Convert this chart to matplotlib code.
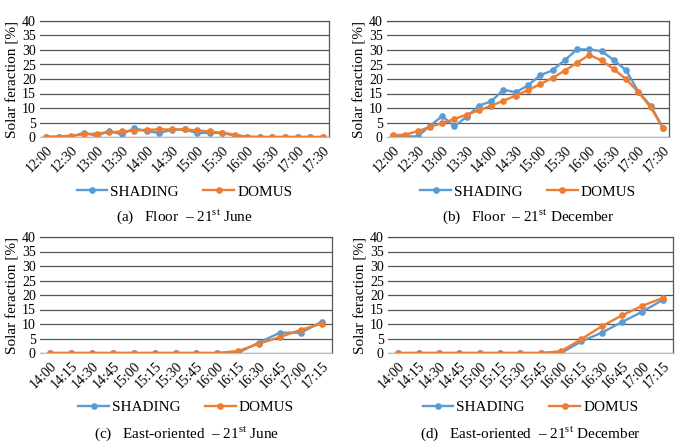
import numpy as np
import matplotlib
matplotlib.use("Agg")
import matplotlib.pyplot as plt

plt.rcParams["font.family"] = ["Liberation Serif", "DejaVu Serif"]
plt.rcParams["mathtext.fontset"] = "custom"
plt.rcParams["mathtext.rm"] = "Liberation Serif"

# time axes
times_floor = ["12:00", "12:15", "12:30", "12:45", "13:00", "13:15", "13:30", "13:45",
               "14:00", "14:15", "14:30", "14:45", "15:00", "15:15", "15:30", "15:45",
               "16:00", "16:15", "16:30", "16:45", "17:00", "17:15", "17:30"]
times_east = ["14:00", "14:15", "14:30", "14:45", "15:00", "15:15", "15:30", "15:45",
              "16:00", "16:15", "16:30", "16:45", "17:00", "17:15"]

# (a) Floor - 21st June
shading_a = [0.1, 0.1, 0.1, 1.5, 0.4, 2.1, 0.9, 3.0, 2.0, 1.4, 2.5, 2.6, 1.4, 1.4,
             1.4, 0.5, 0.1, 0.0, 0.0, 0.0, 0.0, 0.0, 0.0]
domus_a = [0.1, 0.1, 0.5, 0.9, 1.2, 1.6, 1.9, 2.2, 2.5, 2.6, 2.6, 2.6, 2.3, 1.9,
           1.5, 0.8, 0.1, 0.0, 0.0, 0.0, 0.0, 0.0, 0.0]

# (b) Floor - 21st December
shading_b = [0.3, 0.2, 0.2, 3.8, 7.2, 3.7, 7.0, 10.8, 12.3, 16.3, 15.4, 17.8, 21.3,
             23.0, 26.5, 30.2, 30.2, 29.6, 26.5, 23.0, 15.6, 10.8, 3.2]
domus_b = [0.6, 0.8, 2.0, 3.5, 4.8, 6.2, 7.7, 9.2, 10.8, 12.5, 14.3, 16.2, 18.2,
           20.4, 22.9, 25.6, 28.3, 26.4, 23.4, 19.9, 15.5, 10.2, 3.2]

# (c) East-oriented - 21st June
shading_c = [0, 0, 0, 0, 0, 0, 0, 0, 0, 0.1, 3.6, 7.0, 7.0, 10.7]
domus_c = [0, 0, 0, 0, 0, 0, 0, 0, 0, 0.7, 3.2, 5.5, 8.0, 10.1]

# (d) East-oriented - 21st December
shading_d = [0, 0, 0, 0, 0, 0, 0, 0, 0.0, 4.0, 7.0, 10.7, 14.3, 18.3]
domus_d = [0, 0, 0, 0, 0, 0, 0, 0, 0.6, 4.8, 9.2, 13.0, 16.3, 19.0]

captions = [r"(a)   Floor  – 21$^{\mathrm{st}}$ June",
            r"(b)   Floor  – 21$^{\mathrm{st}}$ December",
            r"(c)   East-oriented  – 21$^{\mathrm{st}}$ June",
            r"(d)   East-oriented  – 21$^{\mathrm{st}}$ December"]

BLUE = "#5B9BD5"
ORANGE = "#ED7D31"

W, H = 681, 446
fig = plt.figure(figsize=(W / 100, H / 100), dpi=100)

# axes boxes in pixels: left, top, right, bottom
boxes = [(40, 21, 329, 137), (387, 21, 669, 137),
         (40, 237, 332, 353), (388, 237, 673, 353)]
panels = [(times_floor, shading_a, domus_a, 2),
          (times_floor, shading_b, domus_b, 2),
          (times_east, shading_c, domus_c, 1),
          (times_east, shading_d, domus_d, 1)]
leg_y = [192, 192, 407, 407]
cap_y = [217, 217, 434, 434]

for i, ((l, t, r, b), (times, sh, dm, step)) in enumerate(zip(boxes, panels)):
    ax = fig.add_axes([l / W, 1 - b / H, (r - l) / W, (b - t) / H])
    x = np.arange(len(times))
    ax.plot(x, sh, color=BLUE, lw=1.7, marker="o", ms=3.8, label="SHADING")
    ax.plot(x, dm, color=ORANGE, lw=1.7, marker="o", ms=3.8, label="DOMUS")
    ax.set_xlim(-0.5, len(times) - 0.5)
    ax.set_ylim(0, 40)
    ax.set_yticks(range(0, 41, 5))
    ax.set_xticks(x[::step])
    ax.set_xticklabels(times[::step], rotation=45, ha="right", rotation_mode="anchor")
    ax.tick_params(length=0, labelsize=10, pad=3)
    ax.tick_params(axis="x", pad=5)
    ax.grid(axis="y", color="#555555", lw=0.9)
    ax.set_axisbelow(True)
    for s in ["top", "right"]:
        ax.spines[s].set_color("#555555")
        ax.spines[s].set_linewidth(0.9)
    ax.spines["left"].set_visible(False)
    ax.spines["bottom"].set_color("#bbbbbb")
    ax.set_ylabel("Solar feraction [%]", fontsize=11, labelpad=2)
    cx = (l + r) / 2
    fig.legend(handles=ax.get_lines(), loc="center", ncol=2, frameon=False,
               bbox_to_anchor=(cx / W, 1 - leg_y[i] / H), fontsize=11,
               handlelength=2.0, columnspacing=1.6, handletextpad=0.2)
    fig.text(cx / W, 1 - cap_y[i] / H, captions[i], ha="center", va="center", fontsize=11)

fig.savefig("out.png", dpi=100)
plt.close(fig)
